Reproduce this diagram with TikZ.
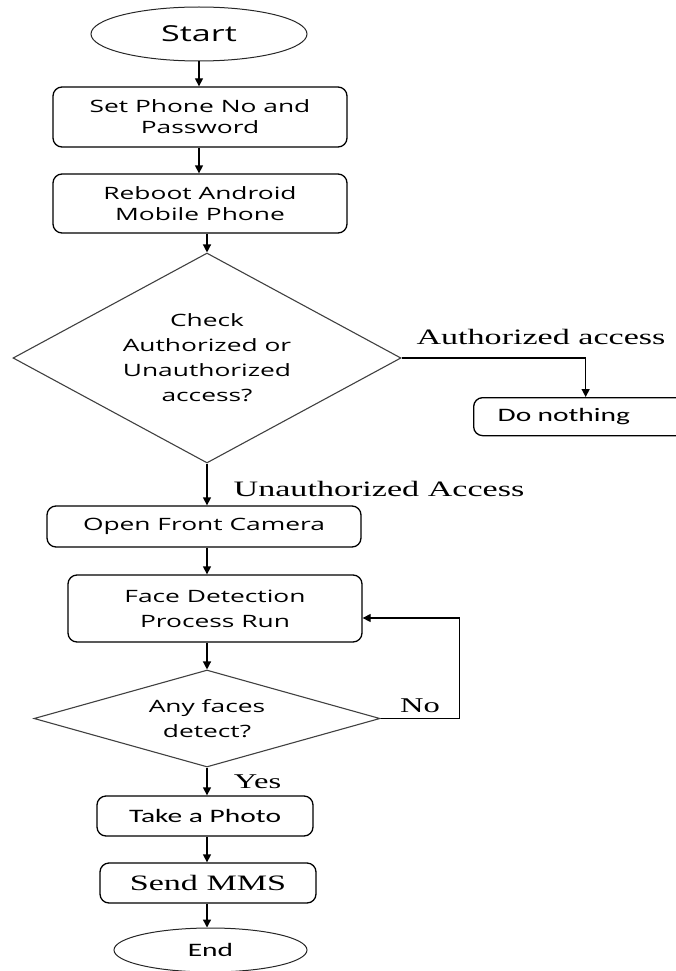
\documentclass[tikz,border=0pt]{standalone}
\usepackage{fontspec}
\setmainfont{Open Sans}[FakeStretch=1.55]
\newfontfamily\timesfont{Liberation Serif}[FakeStretch=1.55]
\newfontfamily\calfont{Carlito}[FakeStretch=1.55]
\usetikzlibrary{shapes.geometric, arrows.meta}

\begin{document}
\begin{tikzpicture} [x = 1pt, y = -1pt,
  terminal/.style = {draw = black!85, ellipse, line width = 1pt, inner sep = 0pt},
  process/.style = {draw, rounded corners = 9pt, line width = 1.3pt, align = center, inner sep = 0pt, font = \fontsize{17pt}{21pt}\selectfont},
  decision/.style = {draw = black!75, diamond, line width = 1.1pt, align = center, inner sep = 0pt, font = \fontsize{17pt}{25pt}\selectfont},
  flow/.style = {line width = 1.3pt, -{Triangle[length = 8pt, width = 8pt]}},
  branch/.style = {anchor = base, font = \timesfont\fontsize{22pt}{26pt}\selectfont}]
\useasboundingbox (0,0) rectangle (676,971);
\node[terminal, minimum width = 216pt, minimum height = 54pt, font = \fontsize{22pt}{26pt}\selectfont] (start) at (199,34) {Start};
\node[process, minimum width = 294pt, minimum height = 60pt] (phone) at (200,117) {Set Phone No and\\Password};
\node[process, minimum width = 294pt, minimum height = 59pt] (reboot) at (200,203.5) {Reboot Android\\Mobile Phone};
\node[decision, shape aspect = 1.85, minimum width = 388pt, minimum height = 210pt] (check) at (207,358) {Check\\Authorized or\\Unauthorized\\access?};
\node[process, anchor = north west, minimum height = 38pt, text width = 176pt, inner xsep = 24pt, align = left, font = \calfont\fontsize{19pt}{23pt}\selectfont] (nothing) at (473,397) {Do nothing};
\node[process, minimum width = 314pt, minimum height = 41pt] (camera) at (204,526.5) {Open Front Camera};
\node[process, minimum width = 294pt, minimum height = 67pt, font = \fontsize{17pt}{25pt}\selectfont] (detection) at (215,608.5) {Face Detection\\Process Run};
\node[decision, shape aspect = 3.5, minimum width = 346pt, minimum height = 97pt] (faces) at (207,718.5) {Any faces\\detect?};
\node[process, minimum width = 216pt, minimum height = 40pt, font = \calfont\fontsize{19pt}{23pt}\selectfont] (photo) at (205,816) {Take a Photo};
\node[process, minimum width = 216pt, minimum height = 40pt, font = \timesfont\fontsize{22pt}{26pt}\selectfont] (mms) at (208,883) {Send MMS};
\node[terminal, minimum width = 193pt, minimum height = 44pt, font = \calfont\fontsize{19pt}{23pt}\selectfont] (end) at (210.5,950) {End};
\node[branch] (authlbl) at (541,344) {Authorized access};
\node[branch] (unauthlbl) at (379,496) {Unauthorized Access};
\node[branch, font = \timesfont\fontsize{21pt}{25pt}\selectfont] (nolbl) at (420,712) {No};
\node[branch, font = \timesfont\fontsize{21pt}{25pt}\selectfont] (yeslbl) at (257.5,788) {Yes};
\coordinate (spine) at (207,0);
\draw[flow] (start.south) -- (start.south |- phone.north);
\draw[flow] (start.south |- phone.south) -- (start.south |- reboot.north);
\draw[flow] (spine |- reboot.south) -- (check.north);
\draw[flow] (check.east) -| (nothing.north);
\draw[flow] (check.south) -- (spine |- camera.north);
\draw[flow] (spine |- camera.south) -- (spine |- detection.north);
\draw[flow] (spine |- detection.south) -- (faces.north);
\draw[flow] (faces.east) -- ++(79,0) |- ([yshift = -9.5pt]detection.east);
\draw[flow] (faces.south) -- (spine |- photo.north);
\draw[flow] (spine |- photo.south) -- (spine |- mms.north);
\draw[flow] (spine |- mms.south) -- (spine |- end.north);
\end{tikzpicture}
\end{document}
